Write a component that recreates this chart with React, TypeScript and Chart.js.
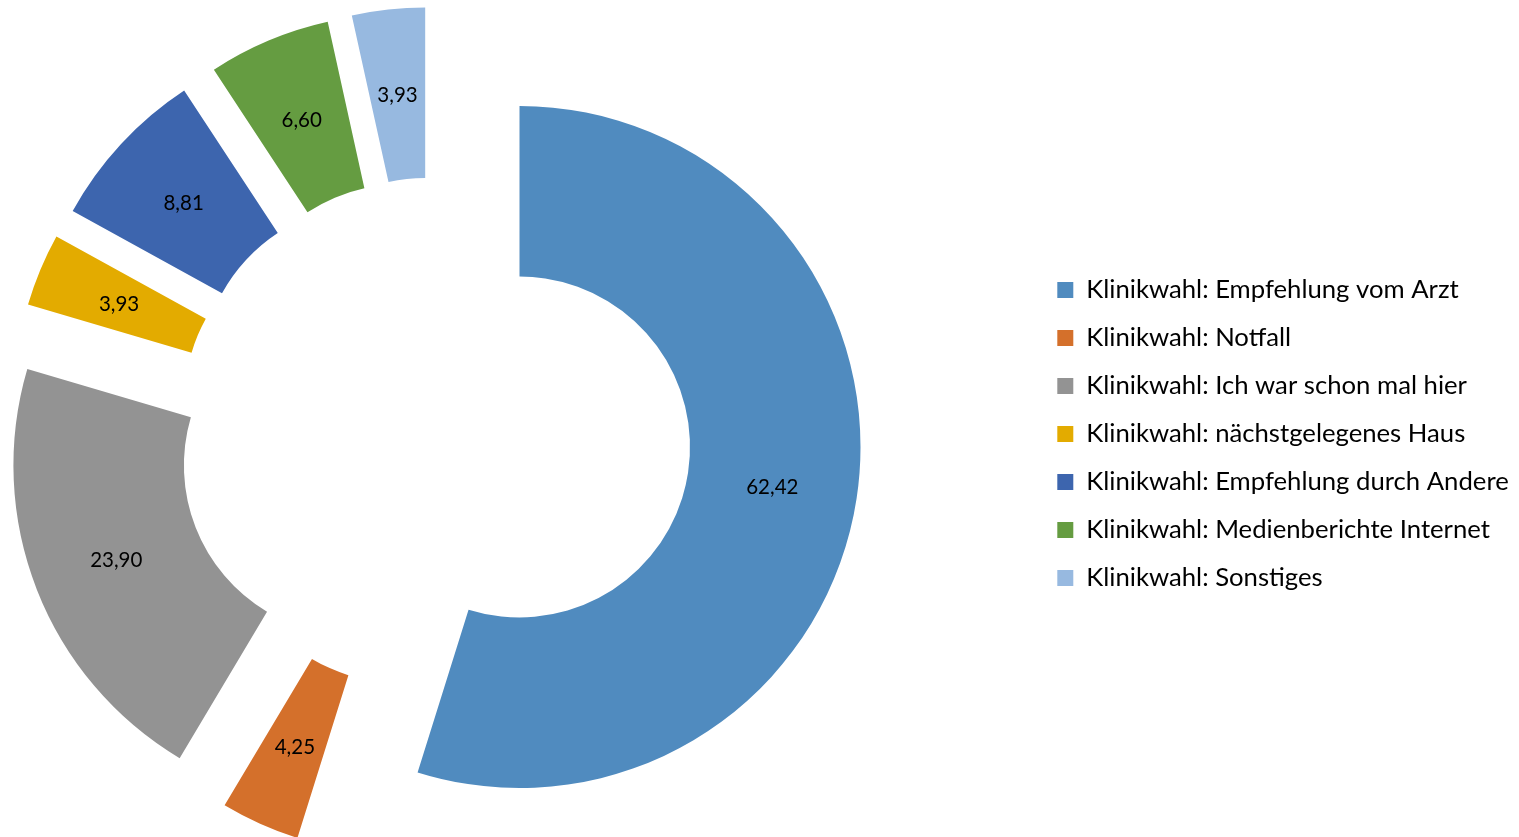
import React, { useEffect, useRef } from 'react';
import { Chart, registerables } from 'chart.js';

Chart.register(...registerables);

const categories = [
  'Klinikwahl: Empfehlung vom Arzt',
  'Klinikwahl: Notfall',
  'Klinikwahl: Ich war schon mal hier',
  'Klinikwahl: nächstgelegenes Haus',
  'Klinikwahl: Empfehlung durch Andere',
  'Klinikwahl: Medienberichte Internet',
  'Klinikwahl: Sonstiges',
];
const values = [62.42, 4.25, 23.9, 3.93, 8.81, 6.6, 3.93];
const colors = ['#508BBF', '#D4702B', '#939393', '#E3AB00', '#3D65AE', '#659C41', '#97B9E0'];

const EXPLODE = 86;
const FONT = 'Lato, "Open Sans", sans-serif';
const LEGEND_SIZE = 25.7;
const LEGEND_STEP = 48;
const LEGEND_PAD = LEGEND_STEP - LEGEND_SIZE;
const BOX = 16;
const CANVAS_W = 1700;
const CANVAS_LEFT = -166;
const LEGEND_LEFT = 1201; // canvas coords of the legend block

const explodePlugin = {
  id: 'explodeSlices',
  afterDatasetUpdate(chart: any, args: any) {
    const meta = chart.getDatasetMeta(args.index);
    meta.data.forEach((arc: any) => {
      const mid = (arc.startAngle + arc.endAngle) / 2;
      arc.x += Math.cos(mid) * EXPLODE;
      arc.y += Math.sin(mid) * EXPLODE;
    });
  },
};

const labelPlugin = {
  id: 'sliceLabels',
  afterDatasetsDraw(chart: any) {
    const ctx = chart.ctx;
    const meta = chart.getDatasetMeta(0);
    const data = chart.data.datasets[0].data as number[];
    ctx.save();
    ctx.font = `20.5px ${FONT}`;
    ctx.fillStyle = '#000';
    ctx.textAlign = 'center';
    ctx.textBaseline = 'middle';
    meta.data.forEach((arc: any, i: number) => {
      const mid = (arc.startAngle + arc.endAngle) / 2;
      const r = (arc.innerRadius + arc.outerRadius) / 2;
      const text = data[i].toFixed(2).replace('.', ',');
      ctx.fillText(text, arc.x + Math.cos(mid) * r, arc.y + Math.sin(mid) * r + 1.5);
    });
    ctx.restore();
  },
};

export default function App() {
  const ref = useRef<HTMLCanvasElement>(null);
  useEffect(() => {
    if (!ref.current) return;
    const m = document.createElement('canvas').getContext('2d')!;
    m.font = `${LEGEND_SIZE}px ${FONT}`;
    const textW = Math.max(...categories.map((c) => m.measureText(c).width));
    const legendW = LEGEND_PAD + BOX + LEGEND_SIZE / 2 + textW + 10;
    const padRight = Math.max(CANVAS_W - LEGEND_LEFT - legendW, 0);
    const chart = new Chart(ref.current, {
      type: 'doughnut',
      data: {
        labels: categories,
        datasets: [{ data: values, backgroundColor: colors, borderWidth: 0 }],
      },
      options: {
        responsive: false,
        animation: false,
        events: [],
        radius: 341,
        cutout: '50%',
        layout: { padding: { top: 31, right: padRight, left: 0, bottom: 0 } },
        plugins: {
          legend: {
            position: 'right',
            labels: {
              boxWidth: BOX,
              boxHeight: BOX,
              padding: LEGEND_PAD,
              color: '#000',
              font: { family: FONT, size: LEGEND_SIZE },
            },
          },
          tooltip: { enabled: false },
        },
      } as any,
      plugins: [explodePlugin, labelPlugin],
    });
    return () => chart.destroy();
  }, []);
  return (
    <div style={{ position: 'fixed', left: 0, top: 0, width: 1519, height: 837, overflow: 'hidden', background: '#fff' }}>
      <canvas ref={ref} width={CANVAS_W} height={837} style={{ position: 'absolute', left: CANVAS_LEFT, top: 0 }} />
    </div>
  );
}
